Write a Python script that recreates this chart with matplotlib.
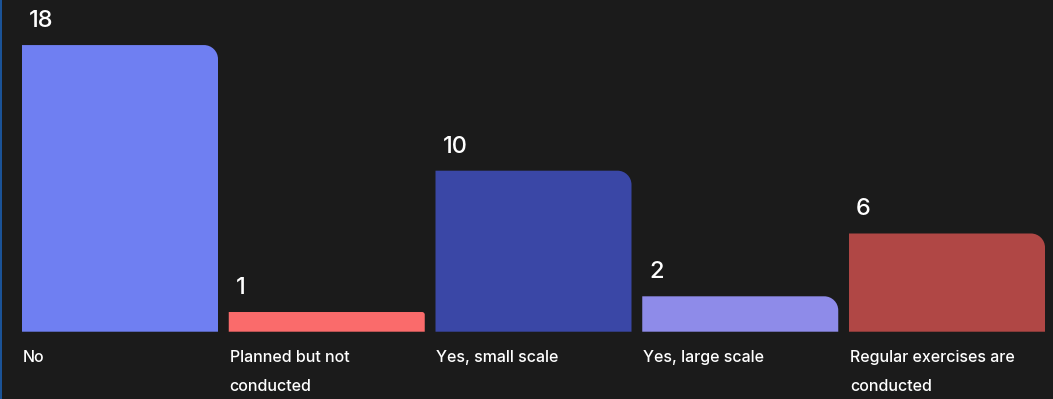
import matplotlib
matplotlib.use('Agg')
import matplotlib.pyplot as plt
from matplotlib.path import Path
from matplotlib.patches import PathPatch
from matplotlib.transforms import IdentityTransform
from matplotlib.lines import Line2D

categories = ["No", "Planned but not\nconducted", "Yes, small scale",
              "Yes, large scale", "Regular exercises are\nconducted"]
values = [18, 1, 10, 2, 6]
colors = ["#6f7ff2", "#fa6b6b", "#3a47a6", "#8e8be9", "#b04745"]

BG = "#1b1b1b"
W, H = 1053, 399
fig = plt.figure(figsize=(W / 100, H / 100), dpi=100, facecolor=BG)
ax = fig.add_axes([0, 0, 1, 1])
ax.set_facecolor(BG)
ax.set_xlim(-0.5804, 4.5127)
ax.set_ylim(-4.54, 20.87)
ax.axis('off')

font = "Inter"
bars = ax.bar(range(len(values)), values, width=0.948, color=colors)
K = 0.5523
for rect, v, c, cat in zip(bars, values, colors, categories):
    rect.set_visible(False)
    x0d, y0d = rect.get_x(), rect.get_y()
    x1d, y1d = x0d + rect.get_width(), y0d + rect.get_height()
    (x0, yb), (x1, yt) = ax.transData.transform([(x0d, y0d), (x1d, y1d)])
    yb -= 4
    h = yt - yb
    r = min(14, max(2, h - 17))
    verts = [(x0, yb), (x1, yb), (x1, yt - r),
             (x1, yt - r + K * r), (x1 - r + K * r, yt), (x1 - r, yt),
             (x0, yt), (x0, yb)]
    codes = [Path.MOVETO, Path.LINETO, Path.LINETO,
             Path.CURVE4, Path.CURVE4, Path.CURVE4,
             Path.LINETO, Path.CLOSEPOLY]
    fig.patches.append(PathPatch(Path(verts, codes), facecolor=c, edgecolor='none',
                                 transform=IdentityTransform(), figure=fig))
    ax.annotate(str(v), xy=(x0d, y1d), xytext=(7, 18), textcoords='offset pixels',
                ha='left', va='baseline', color='white', fontsize=17, family=font,
                fontweight='medium')
    ax.annotate(cat, xy=(x0d, 0), xytext=(1, -22), textcoords='offset pixels',
                ha='left', va='top', color='white', fontsize=11.5, family=font,
                fontweight='medium', linespacing=2.15)

fig.lines.append(Line2D([0.5 / W, 0.5 / W], [0, 1], color="#1c5fb0", lw=1.2,
                        transform=fig.transFigure, figure=fig))

fig.savefig('out.png', dpi=100, facecolor=BG)
